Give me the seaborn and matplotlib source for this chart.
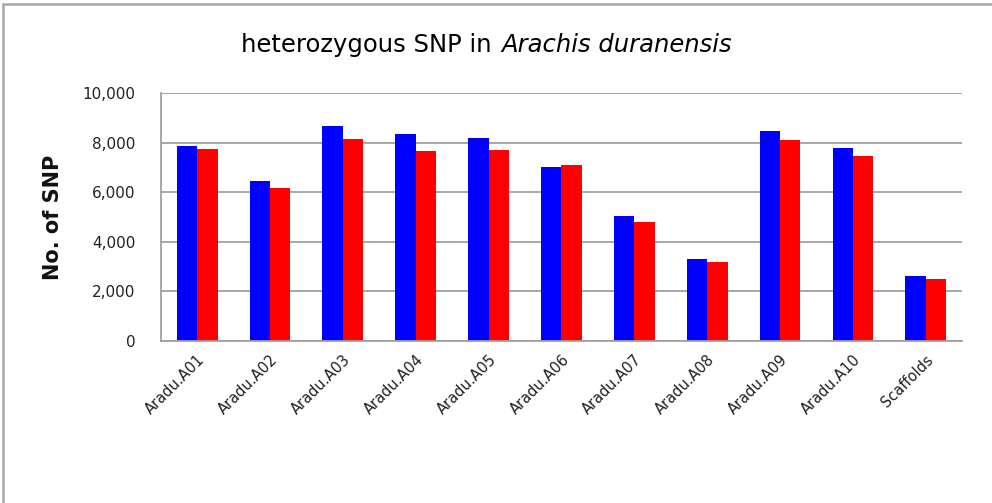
import matplotlib
matplotlib.use('Agg')
import matplotlib.pyplot as plt
import matplotlib.ticker as mticker
from matplotlib.lines import Line2D
import pandas as pd
import seaborn as sns

# Values
chromosomes = ['Aradu.A01', 'Aradu.A02', 'Aradu.A03', 'Aradu.A04', 'Aradu.A05', 'Aradu.A06',
               'Aradu.A07', 'Aradu.A08', 'Aradu.A09', 'Aradu.A10', 'Scaffolds']
series_a = [7880, 6440, 8690, 8350, 8200, 7020, 5050, 3300, 8460, 7790, 2630]
series_b = [7750, 6190, 8160, 7660, 7710, 7090, 4790, 3190, 8120, 7480, 2520]
series_names = ['A', 'B']

df = pd.DataFrame({
    'chrom': chromosomes * 2,
    'snp': series_a + series_b,
    'series': [series_names[0]] * len(chromosomes) + [series_names[1]] * len(chromosomes),
})

sns.set_style('white')
plt.rcParams['font.family'] = ['DejaVu Sans']

fig = plt.figure(figsize=(9.92, 5.03), dpi=100)
ax = fig.add_axes([0.162, 0.322, 0.808, 0.493])

sns.barplot(data=df, x='chrom', y='snp', hue='series', palette=['#0000ff', '#ff0000'],
            width=0.56, saturation=1, legend=False, ax=ax, linewidth=0)

ax.set_ylim(0, 10000)
ax.set_xlim(-0.5, len(chromosomes) - 0.5)
ax.yaxis.set_major_locator(mticker.MultipleLocator(2000))
ax.yaxis.set_major_formatter(mticker.FuncFormatter(lambda v, p: f'{int(v):,}'))
ax.yaxis.grid(True, color='#a0a0a0', linewidth=1.3)
ax.set_axisbelow(True)

for s in ['top', 'right']:
    ax.spines[s].set_visible(False)
for s in ['left', 'bottom']:
    ax.spines[s].set_color('#a0a0a0')
    ax.spines[s].set_linewidth(1.3)

# x ticks on category boundaries, labels at centres
ax.set_xticks([i - 0.5 for i in range(len(chromosomes) + 1)], minor=False)
ax.set_xticklabels([])
ax.set_xticks(range(len(chromosomes)), minor=True)
ax.set_xticklabels(chromosomes, minor=True, rotation=45, ha='right', rotation_mode='anchor',
                   fontsize=10.5, color='#222222')
ax.tick_params(axis='x', which='major', direction='out', length=6, color='#a0a0a0', width=1.3)
ax.tick_params(axis='x', which='minor', length=0, pad=8)
ax.tick_params(axis='y', direction='out', length=6, color='#a0a0a0', width=1.3,
               labelsize=11, labelcolor='#222222', pad=12)

ax.set_xlabel('')
ax.set_ylabel('No. of SNP', fontsize=15, fontweight='bold', labelpad=14, color='#111111')

fig.text(0.503, 0.91, 'heterozygous SNP in ', ha='right', va='center', fontsize=17.5,
         color='black')
fig.text(0.505, 0.91, 'Arachis duranensis', ha='left', va='center', fontsize=17.5,
         style='italic', color='black')

# outer frame of the original chart area
fig.add_artist(Line2D([0.0035, 1.0], [0.993, 0.993], color='#a8a8a8', linewidth=1.8,
                      transform=fig.transFigure))
fig.add_artist(Line2D([0.0035, 0.0035], [0.0, 0.993], color='#a8a8a8', linewidth=1.8,
                      transform=fig.transFigure))

fig.savefig('out.png', dpi=100)
